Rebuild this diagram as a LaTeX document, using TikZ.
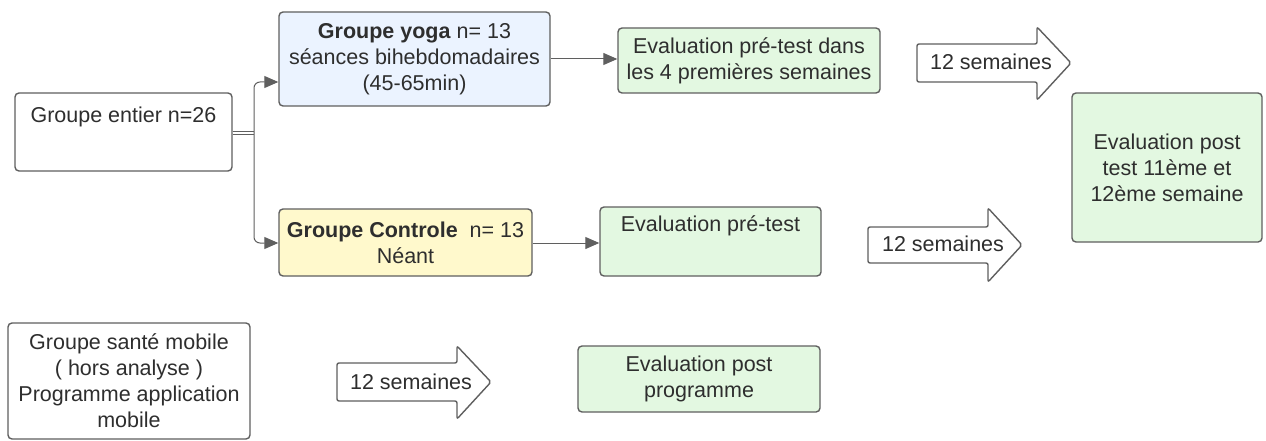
\documentclass[tikz,border=0pt]{standalone}
\usepackage{fontspec}
\setmainfont{Liberation Sans}
\usetikzlibrary{arrows.meta}
\definecolor{bordc}{HTML}{5F5F5F}
\definecolor{txtc}{HTML}{2E2E2E}
\definecolor{bluef}{HTML}{EBF3FF}
\definecolor{yellf}{HTML}{FFF9CC}
\definecolor{greenf}{HTML}{E3F8E1}
\tikzset{
  box/.style={draw=bordc, line width=1.4pt, rounded corners=4pt, fill=white, inner sep=0pt, text=txtc, align=center},
  txt/.style={text=txtc, align=center, inner sep=0pt},
  conn/.style={draw=bordc, line width=1pt, -{Triangle[length=14pt,width=12pt]}},
  bigarrow/.style={draw=bordc, line width=1.4pt, fill=white, rounded corners=2pt},
}
\begin{document}
\begin{tikzpicture}[x=1pt,y=-1pt, font=\fontsize{21.5}{26}\selectfont]
\useasboundingbox (0,0) rectangle (1266,441);
% boxes
\node[box, minimum width=217, minimum height=78] (entier) at (123.5,132) {};
\node[txt] (entiertxt) at (123.5,117) {Groupe entier n=26};
\node[box, fill=bluef, minimum width=271, minimum height=94] (yoga) at (414.5,59)
  {\textbf{Groupe yoga} n= 13\\séances bihebdomadaires\\(45-65min)};
\node[box, fill=yellf, minimum width=253, minimum height=67] (ctrl) at (405.5,242.5)
  {\textbf{Groupe Controle}\ \ n= 13\\Néant};
\node[box, fill=greenf, minimum width=262, minimum height=65] (pre1) at (749,60.5)
  {Evaluation pré-test dans\\les 4 premières semaines};
\node[box, fill=greenf, minimum width=221, minimum height=69] (pre2) at (710.5,241.5) {};
\node[txt] (pre2txt) at (710.5,226) {Evaluation pré-test};
\node[box, fill=greenf, minimum width=190, minimum height=149] (post) at (1167,167.5)
  {Evaluation post\\test 11ème et\\12ème semaine};
\node[box, minimum width=242, minimum height=116] (sante) at (129,381)
  {Groupe santé mobile\\( hors analyse )\\Programme application\\mobile};
\node[box, fill=greenf, minimum width=242, minimum height=66] (postprog) at (699,379)
  {Evaluation post\\programme};
% connectors
\coordinate (split) at (254,133);
\draw[draw=bordc, line width=1.1pt, double=white, double distance=1.6pt] (entier.east |- split) -- (split);
\draw[conn, rounded corners=6pt] (split) -- (254,82) -- (yoga.west |- 0,82);
\draw[conn, rounded corners=6pt] (split) -- (254,243) -- (ctrl.west |- 0,243);
\draw[conn] (yoga.east |- 0,59) -- (pre1.west |- 0,59);
\draw[conn] (ctrl.east |- 0,243) -- (pre2.west |- 0,243);
% big arrows
\draw[bigarrow] (917,44) -- (1037,44) -- (1037,27) -- (1071,63) -- (1037,100) -- (1037,82) -- (917,82) -- cycle;
\node[txt] (a1) at (991,62) {12 semaines};
\draw[bigarrow] (868,227) -- (988,227) -- (988,208) -- (1022,245) -- (988,282) -- (988,263) -- (868,263) -- cycle;
\node[txt] (a2) at (943,244) {12 semaines};
\draw[bigarrow] (337,363) -- (457,363) -- (457,346) -- (491,382) -- (457,419) -- (457,401) -- (337,401) -- cycle;
\node[txt] (a3) at (411,382) {12 semaines};
\end{tikzpicture}
\end{document}
